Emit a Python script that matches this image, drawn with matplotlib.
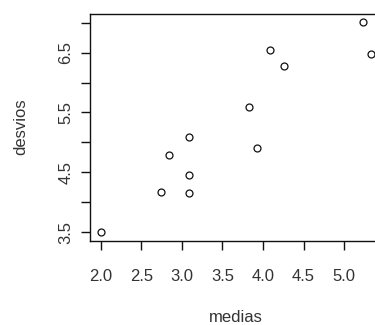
import numpy as np
import matplotlib
matplotlib.use("Agg")
import matplotlib.pyplot as plt

# values
medias = [2.00, 2.745, 2.84, 3.09, 3.09, 3.09, 3.83, 3.92, 4.09, 4.26, 5.24, 5.33]
desvios = [3.50, 4.17, 4.78, 4.15, 4.45, 5.09, 5.59, 4.90, 6.54, 6.28, 7.01, 6.47]

x_ticks = [2.0, 2.5, 3.0, 3.5, 4.0, 4.5, 5.0]
y_ticks = [3.5, 4.0, 4.5, 5.0, 5.5, 6.0, 6.5, 7.0]
y_labels = ["3.5", "", "4.5", "", "5.5", "", "6.5", ""]

plt.rcParams['font.family'] = ['Liberation Sans', 'DejaVu Sans']

W, H = 375, 325
fig = plt.figure(figsize=(W / 100, H / 100), dpi=100)
# plot region runs a little past the right edge of the image (like the reference)
left, right, top, bottom = 90, 382, 13.5, 241
ax = fig.add_axes([left / W, 1 - bottom / H, (right - left) / W, (bottom - top) / H])

ax.plot(medias, desvios, 'o', mfc='none', mec='#111111', ms=5, mew=0.9)

ax.set_xlim(2 - (101 - left) / 81, 2 + (right - 101) / 81)
ax.set_ylim(3.5 - (bottom - 232) / 59.8, 3.5 + (232 - top) / 59.8)
for s in ax.spines.values():
    s.set_linewidth(1.0)
    s.set_color('#111111')

ax.set_xticks(x_ticks)
ax.set_xticklabels([f"{t:.1f}" for t in x_ticks], va='center')
ax.set_yticks(y_ticks)
ax.set_yticklabels(y_labels, rotation=90, va='center', ha='center')
ax.tick_params(axis='both', length=6.5, width=1.0, color='#111111',
               labelsize=12, labelcolor='#333333')
ax.tick_params(axis='x', pad=26 * 0.72)
ax.tick_params(axis='y', pad=15 * 0.72)

ax.set_xlabel("medias", fontsize=12, color='#333333', va='center')
ax.set_ylabel("desvios", fontsize=12, color='#333333', va='center')
ax.xaxis.set_label_coords(236 / W, 1 - 317 / H, transform=fig.transFigure)
ax.yaxis.set_label_coords(21 / W, 1 - 127 / H, transform=fig.transFigure)

fig.savefig("out.png", dpi=100)
